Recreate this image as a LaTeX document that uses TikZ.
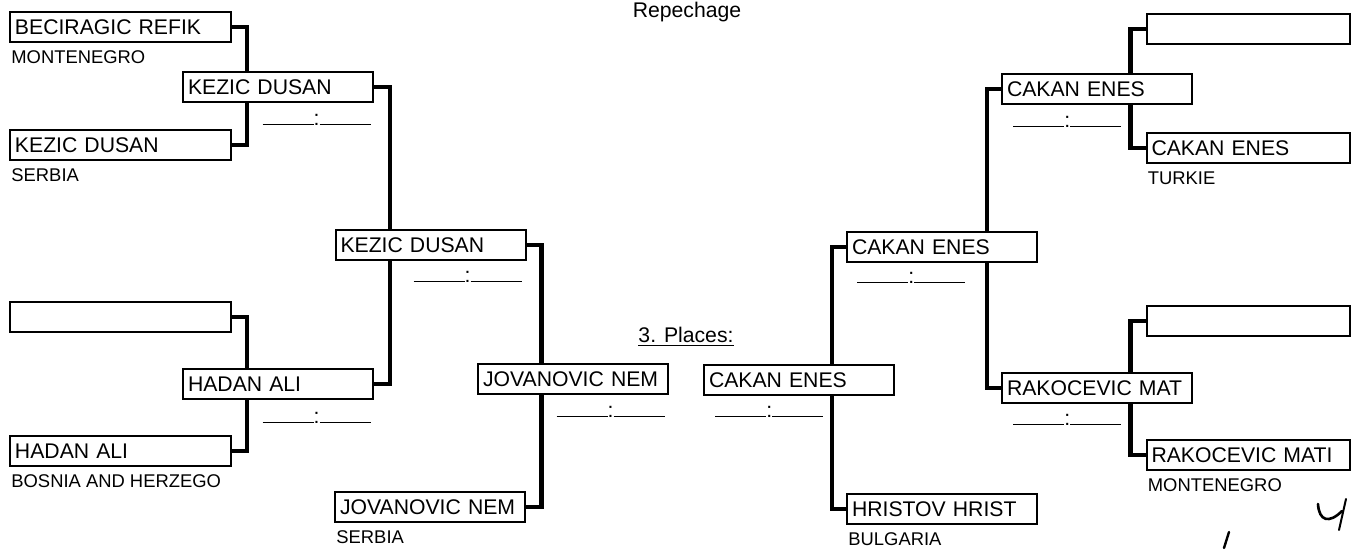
\documentclass[tikz,border=0pt]{standalone}
\usepackage{fontspec}
\setmainfont{Liberation Sans}
\usetikzlibrary{positioning,backgrounds}
\newcommand{\resline}{\rule{25.5pt}{0.7pt}:\rule{25.5pt}{0.7pt}}

\begin{document}
\begin{tikzpicture}[x=0.5pt, y=-0.5pt, player/.style={rectangle, draw, line width=1pt, fill=white, minimum height=15pt, inner xsep=2.5pt, inner ysep=0pt, text width=#1, align=left, font=\fontsize{10.6}{12}\selectfont}, player/.default=90pt, country/.style={inner sep=0pt, font=\fontsize{9.2}{10}\selectfont}, result/.style={inner sep=0pt, font=\fontsize{10.6}{12}\selectfont}, heading/.style={inner sep=0pt, anchor=base, font=\fontsize{10.6}{12}\selectfont}, bracket/.style={line width=2.2pt, to path={-- ++(#1,0) |- (\tikztotarget)}}]
      \useasboundingbox (0,0) rectangle (1356,548);

      \node [heading] (rep) at (687,17) {Repechage};

      \node [heading] (places) at (686,342) {\underline{3. Places:}};

      % left half
      \node [player=105.5pt] (a1) at (120.5,27) {BECIRAGIC REFIK};

      \node [player=105.5pt] (a2) at (120.5,145) {KEZIC DUSAN};

      \node [player=105.5pt] (a3) at (120.5,317) {};

      \node [player=105.5pt] (a4) at (120.5,451) {HADAN ALI};

      \node [player] (b1) at (278,87) {KEZIC DUSAN};

      \node [player] (b2) at (278,384) {HADAN ALI};

      \node [player] (c1) at (430.5,245) {KEZIC DUSAN};

      \node [player] (d1) at (573,379) {JOVANOVIC NEM};

      \node [player] (d2) at (430,507) {JOVANOVIC NEM};

      \node [country, below=3.5pt of a1.south west, anchor=north west, xshift=1pt] {MONTENEGRO};

      \node [country, below=3.5pt of a2.south west, anchor=north west, xshift=1pt] {SERBIA};

      \node [country, below=3.5pt of a4.south west, anchor=north west, xshift=1pt] {BOSNIA AND HERZEGO};

      \node [country, below=3.5pt of d2.south west, anchor=north west, xshift=1pt] {SERBIA};

      \node [result, anchor=base east] at (371,125) {\resline};

      \node [result, anchor=base east] at (371,423) {\resline};

      \node [result, anchor=base east] at (522,282) {\resline};

      \node [result, anchor=base east] at (665,417) {\resline};

      % right half
      \node [player] (e1) at (799,380) {CAKAN ENES};

      \node [player] (f1) at (942,247) {CAKAN ENES};

      \node [player] (f2) at (942,509) {HRISTOV HRIST};

      \node [player] (g1) at (1097,89) {CAKAN ENES};

      \node [player] (g2) at (1097,388) {RAKOCEVIC MAT};

      \node [player=96.5pt] (h1) at (1248,29) {};

      \node [player=96.5pt] (h2) at (1248,148) {CAKAN ENES};

      \node [player=96.5pt] (h3) at (1248,321) {};

      \node [player=96.5pt] (h4) at (1248,455) {RAKOCEVIC MATI};

      \node [country, below=3.5pt of h2.south west, anchor=north west, xshift=1pt] {TURKIE};

      \node [country, below=3.5pt of h4.south west, anchor=north west, xshift=1pt] {MONTENEGRO};

      \node [country, below=3.5pt of f2.south west, anchor=north west, xshift=1pt] {BULGARIA};

      \node [result, anchor=base west] at (715,417) {\resline};

      \node [result, anchor=base west] at (857,283) {\resline};

      \node [result, anchor=base west] at (1013,127) {\resline};

      \node [result, anchor=base west] at (1013,425) {\resline};

      \begin{scope}[on background layer]
      \path (a1.east) edge[bracket=15] (a2.east);

      \path (a3.east) edge[bracket=15] (a4.east);

      \path (b1.east) edge[bracket=16] (b2.east);

      \path (c1.east) edge[bracket=15] (d2.east);

      \path (f1.west) edge[bracket=-14] (f2.west);

      \path (g1.west) edge[bracket=-14] (g2.west);

      \path (h1.west) edge[bracket=-15] (h2.west);

      \path (h3.west) edge[bracket=-15] (h4.west);
      \end{scope}

      % pen marks
      \draw [line width=1.3pt, line cap=round] (1318,504) .. controls (1319,521) and (1329,524) .. (1342,511);

      \draw [line width=1pt, line cap=round] (1346,499) -- (1339,530);

      \draw [line width=1.2pt, line cap=round] (1229,532) -- (1224,548);
    \end{tikzpicture}
\end{document}
